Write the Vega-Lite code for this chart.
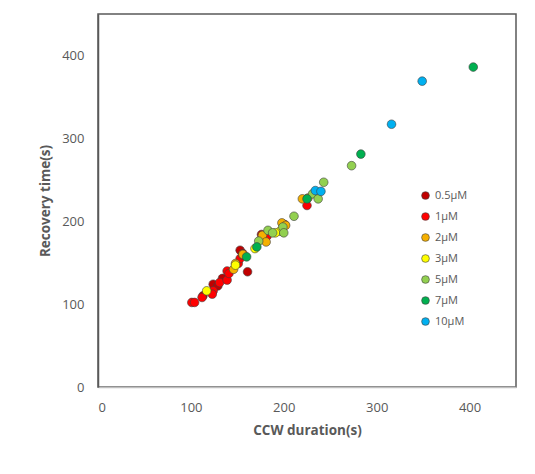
{
  "$schema": "https://vega.github.io/schema/vega-lite/v6.json",
  "width": 418,
  "height": 373,
  "autosize": {"type": "none"},
  "padding": {"left": 98, "top": 14, "right": 19, "bottom": 87},
  "background": "white",
  "config": {
    "font": "Open Sans",
    "view": {"stroke": "#595959", "strokeWidth": 1.5},
    "axis": {"grid": false, "ticks": false, "labelColor": "#595959", "titleColor": "#595959", "labelFontSize": 13, "titleFontSize": 13.5, "titleFontWeight": "bold"}
  },
  "data": {
    "values": [
      {"c": "0.5µM", "x": 113, "y": 110},
      {"c": "0.5µM", "x": 124, "y": 124},
      {"c": "0.5µM", "x": 129, "y": 122},
      {"c": "0.5µM", "x": 134, "y": 131},
      {"c": "0.5µM", "x": 153, "y": 165},
      {"c": "0.5µM", "x": 156, "y": 161},
      {"c": "0.5µM", "x": 161, "y": 139},
      {"c": "0.5µM", "x": 176, "y": 184},
      {"c": "0.5µM", "x": 201, "y": 196},
      {"c": "1µM", "x": 101, "y": 102},
      {"c": "1µM", "x": 104, "y": 102},
      {"c": "1µM", "x": 112, "y": 108},
      {"c": "1µM", "x": 124, "y": 116},
      {"c": "1µM", "x": 123, "y": 112},
      {"c": "1µM", "x": 131, "y": 126},
      {"c": "1µM", "x": 139, "y": 129},
      {"c": "1µM", "x": 139, "y": 140},
      {"c": "1µM", "x": 141, "y": 137},
      {"c": "1µM", "x": 151, "y": 149},
      {"c": "1µM", "x": 153, "y": 155},
      {"c": "1µM", "x": 156, "y": 159},
      {"c": "1µM", "x": 182, "y": 182},
      {"c": "1µM", "x": 225, "y": 219},
      {"c": "2µM", "x": 146, "y": 142},
      {"c": "2µM", "x": 148, "y": 149},
      {"c": "2µM", "x": 156, "y": 160},
      {"c": "2µM", "x": 177, "y": 183},
      {"c": "2µM", "x": 181, "y": 175},
      {"c": "2µM", "x": 198, "y": 198},
      {"c": "2µM", "x": 202, "y": 195},
      {"c": "2µM", "x": 220, "y": 227},
      {"c": "2µM", "x": 226, "y": 228},
      {"c": "3µM", "x": 117, "y": 116},
      {"c": "3µM", "x": 148, "y": 147},
      {"c": "3µM", "x": 169, "y": 167},
      {"c": "3µM", "x": 196, "y": 188},
      {"c": "3µM", "x": 191, "y": 186},
      {"c": "5µM", "x": 173, "y": 176},
      {"c": "5µM", "x": 183, "y": 189},
      {"c": "5µM", "x": 188, "y": 186},
      {"c": "5µM", "x": 199, "y": 193},
      {"c": "5µM", "x": 200, "y": 186},
      {"c": "5µM", "x": 211, "y": 206},
      {"c": "5µM", "x": 231, "y": 233},
      {"c": "5µM", "x": 237, "y": 227},
      {"c": "5µM", "x": 243, "y": 247},
      {"c": "5µM", "x": 273, "y": 267},
      {"c": "7µM", "x": 160, "y": 157},
      {"c": "7µM", "x": 171, "y": 169},
      {"c": "7µM", "x": 225, "y": 227},
      {"c": "7µM", "x": 283, "y": 281},
      {"c": "7µM", "x": 404, "y": 386},
      {"c": "10µM", "x": 234, "y": 237},
      {"c": "10µM", "x": 240, "y": 236},
      {"c": "10µM", "x": 316, "y": 317},
      {"c": "10µM", "x": 349, "y": 369}
    ]
  },
  "mark": {"type": "point", "filled": true, "size": 75, "opacity": 1, "stroke": "#404040", "strokeWidth": 0.6},
  "encoding": {
    "x": {"field": "x", "type": "quantitative", "title": "CCW duration(s)", "scale": {"domain": [0, 450], "nice": false}, "axis": {"values": [0, 100, 200, 300, 400], "labelPadding": 14, "titlePadding": 9, "domainColor": "#BFBFBF", "domainWidth": 1.5}},
    "y": {"field": "y", "type": "quantitative", "title": "Recovery time(s)", "scale": {"domain": [0, 450], "nice": false}, "axis": {"values": [0, 100, 200, 300, 400], "labelPadding": 14, "titlePadding": 9, "domainColor": "#595959", "domainWidth": 1.5}},
    "color": {"field": "c", "type": "nominal", "title": null,
      "scale": {"domain": ["0.5µM", "1µM", "2µM", "3µM", "5µM", "7µM", "10µM"], "range": ["#C00000", "#FF0000", "#F5B000", "#FFFF00", "#92D050", "#00B050", "#00B0F0"]},
      "legend": {"orient": "none", "legendX": 322, "legendY": 176, "symbolType": "circle", "symbolSize": 60, "symbolStrokeColor": "#404040", "symbolStrokeWidth": 0.6, "labelFontSize": 11, "labelColor": "#595959", "rowPadding": 9, "labelOffset": 4}}
  }
}
